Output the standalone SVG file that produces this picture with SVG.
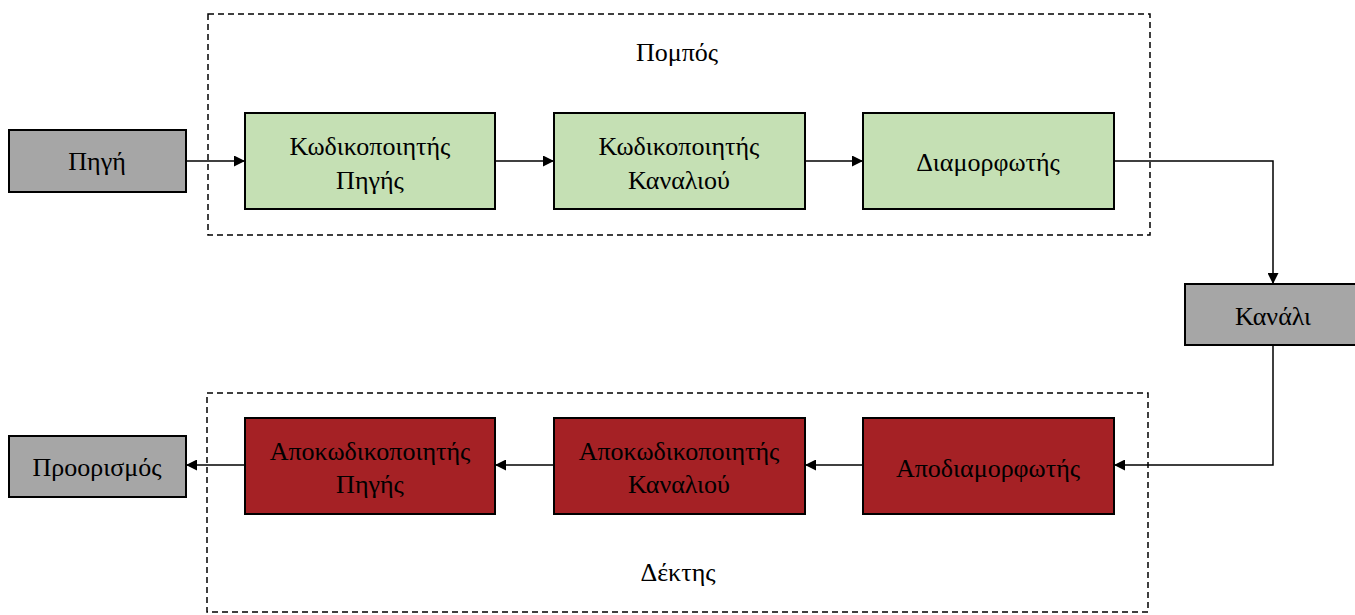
<svg xmlns="http://www.w3.org/2000/svg" width="1355" height="615" viewBox="0 0 1355 615">
<style>
.t{font-family:"Liberation Serif","Times New Roman",serif;font-size:26px;fill:#000;text-anchor:middle;dominant-baseline:central}
.grey{fill:#A6A6A6;stroke:#000;stroke-width:2}
.green{fill:#C5E0B4;stroke:#000;stroke-width:2}
.red{fill:#A52125;stroke:#000;stroke-width:2}
.grp{fill:none;stroke:#000;stroke-width:1.5;stroke-dasharray:6 4}
.c{fill:none;stroke:#000;stroke-width:1.5}
</style>
<defs>
<marker id="ah" viewBox="0 0 10 10" refX="10" refY="5" markerWidth="11" markerHeight="11" markerUnits="userSpaceOnUse" orient="auto">
<path d="M0,0 L10,5 L0,10 z" fill="#000"/>
</marker>
</defs>
<rect width="1355" height="615" fill="#fff"/>
<g id="transmitter">
<rect class="grp" x="208" y="14" width="942" height="221"/>
<text class="t" x="677" y="52">Πομπός</text>
</g>
<g id="receiver">
<rect class="grp" x="207" y="393" width="941" height="219"/>
<text class="t" x="678" y="572">Δέκτης</text>
</g>
<g id="connectors">
<path class="c" d="M186,161 L245,161" marker-end="url(#ah)"/>
<path class="c" d="M495,161 L554,161" marker-end="url(#ah)"/>
<path class="c" d="M805,161 L863,161" marker-end="url(#ah)"/>
<path class="c" d="M1114,161 L1273,161 L1273,284" marker-end="url(#ah)"/>
<path class="c" d="M1273,345 L1273,465 L1114,465" marker-end="url(#ah)"/>
<path class="c" d="M863,465 L805,465" marker-end="url(#ah)"/>
<path class="c" d="M554,465 L495,465" marker-end="url(#ah)"/>
<path class="c" d="M245,465 L186,465" marker-end="url(#ah)"/>
</g>
<g id="source">
<rect class="grey" x="9" y="130" width="177" height="62"/>
<text class="t" x="97" y="161">Πηγή</text>
</g>
<g id="source-encoder">
<rect class="green" x="245" y="113" width="250" height="96"/>
<text class="t" x="370" y="146">Κωδικοποιητής</text>
<text class="t" x="370" y="180">Πηγής</text>
</g>
<g id="channel-encoder">
<rect class="green" x="554" y="113" width="251" height="96"/>
<text class="t" x="679" y="146">Κωδικοποιητής</text>
<text class="t" x="679" y="180">Καναλιού</text>
</g>
<g id="modulator">
<rect class="green" x="863" y="113" width="251" height="96"/>
<text class="t" x="988" y="162">Διαμορφωτής</text>
</g>
<g id="channel">
<rect class="grey" x="1185" y="284" width="175" height="61"/>
<text class="t" x="1273" y="316">Κανάλι</text>
</g>
<g id="demodulator">
<rect class="red" x="863" y="418" width="251" height="96"/>
<text class="t" x="988" y="468">Αποδιαμορφωτής</text>
</g>
<g id="channel-decoder">
<rect class="red" x="554" y="418" width="251" height="96"/>
<text class="t" x="679" y="451">Αποκωδικοποιητής</text>
<text class="t" x="679" y="484">Καναλιού</text>
</g>
<g id="source-decoder">
<rect class="red" x="245" y="418" width="250" height="96"/>
<text class="t" x="370" y="451">Αποκωδικοποιητής</text>
<text class="t" x="370" y="484">Πηγής</text>
</g>
<g id="destination">
<rect class="grey" x="9" y="436" width="177" height="61"/>
<text class="t" x="97" y="467">Προορισμός</text>
</g>
</svg>
